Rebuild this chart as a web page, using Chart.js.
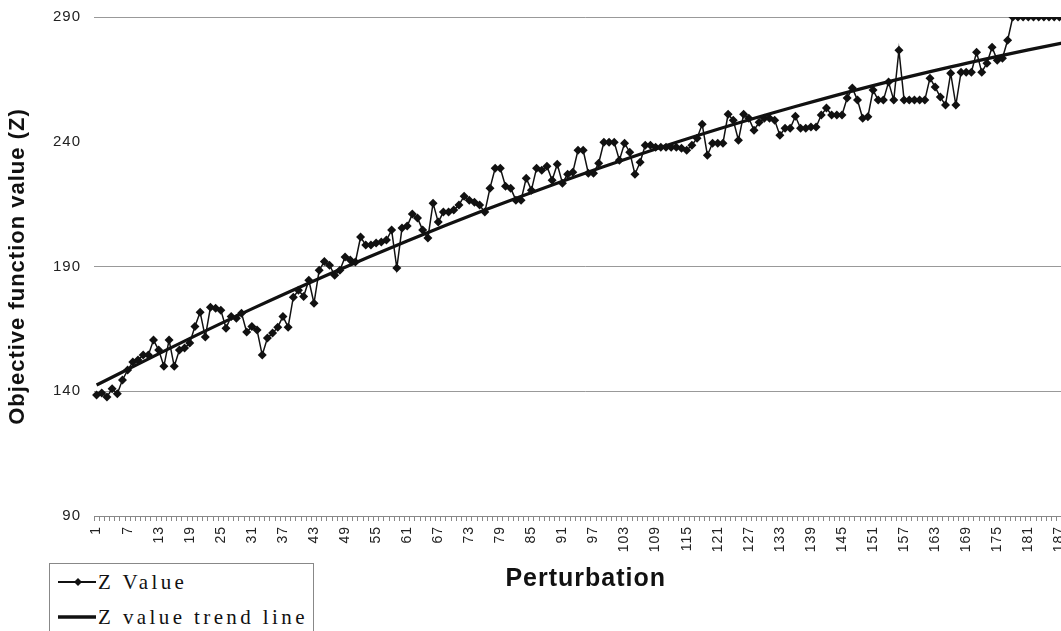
<!DOCTYPE html>
<html><head><meta charset="utf-8">
<script src="https://cdn.jsdelivr.net/npm/chart.js@4/dist/chart.umd.min.js"></script>
<style>
html,body{margin:0;padding:0;background:#fff;overflow:hidden;width:1061px;height:631px;}
#wrap{position:absolute;left:0;top:0;width:1082px;height:631px;}
#legend{position:absolute;left:49px;top:563px;width:263px;height:80px;border:1px solid #888;background:#fff;
  font-family:"Liberation Serif","Times New Roman",serif;font-size:21px;color:#111;letter-spacing:3.4px;}
.row{position:absolute;left:7px;height:30px;display:flex;align-items:center;white-space:nowrap;}
.row svg{margin-right:1px;}
</style></head>
<body>
<div id="wrap"><canvas id="c"></canvas></div>
<div id="legend">
  <div class="row" style="top:3px"><svg width="40" height="20"><line x1="1" y1="10" x2="39" y2="10" stroke="#111" stroke-width="2"/><polygon points="21,6 25,10 21,14 17,10" fill="#111"/></svg><span>Z Value</span></div>
  <div class="row" style="top:38px"><svg width="40" height="20"><line x1="1" y1="10" x2="39" y2="10" stroke="#111" stroke-width="3.5"/></svg><span>Z value trend line</span></div>
</div>
<script>
const categories = [];
for (let i = 1; i <= 190; i++) categories.push(String(i));

const zValues = [
138.5,139.3,137.7,141,139,144.5,148.5,151.7,152.5,154.5,
154.5,160.5,156.5,150,160.5,150,156.5,157.3,159.3,166,
171.7,161.7,173.7,173.3,172.5,165.3,170,169.3,171.3,163.7,
166,164.5,154.5,161.3,163.3,165.7,170,165.7,177.7,180.5,
178,184.5,175.3,188.5,192,190.5,186.5,188.5,193.8,192.6,
191.8,201.8,198.6,198.6,199.4,199.8,200.6,204.6,189.4,205.4,
206.2,211,209.4,204.6,201.4,215.4,207.8,211.8,211.8,212.6,
214.6,218.2,216.6,215.8,214.6,211.8,221.4,229.4,229.4,222.2,
221.4,216.6,216.6,225.4,220.6,229.4,228.6,230.2,224.6,231,
223.4,227,227.8,236.6,236.6,227.4,227.4,231.4,239.8,239.8,
239.8,232.6,239.4,235.8,227,231.8,238.6,238.6,237.8,237.8,
237.8,237.8,237.8,237.4,236.6,238.6,241.4,247,234.6,239.4,
239.4,239.4,251,248.6,240.6,251,249.4,244.6,247.8,249.4,
249.4,248.6,242.6,245.4,245.4,250.2,245.4,245.4,245.9,245.9,
250.7,253.5,250.7,250.7,250.7,257.5,261.5,256.7,249.4,250,
260.7,256.7,256.7,263.9,256.7,276.7,256.7,256.7,256.7,256.7,
256.7,265.5,261.9,257.9,254.7,267.5,254.7,267.9,267.9,267.9,
275.9,267.9,271.5,277.9,272.7,273.5,280.7,290,290,290,
290,290,290,290,290,290,290,290,290,290
];

const trendCategories = [1,16,31,46,61,76,91,106,121,136,151,166,181,190];
const trendValues = [142.5,158.1,173,187,200.2,212.6,224.2,235,245,254.1,262.5,270,276.8,280.6];

const yMin = 90, yMax = 290, yStep = 50;
const hiddenGridValues = [240];
const labelEvery = 6;

const trendData = categories.map(() => null);
trendCategories.forEach((c, k) => { trendData[categories.indexOf(String(c))] = trendValues[k]; });

const FONT = "'Liberation Sans', Arial, sans-serif";

const spacing = {
  id: 'spacing',
  beforeUpdate(chart) { chart.ctx.letterSpacing = '1px'; },
  beforeLayout(chart) { chart.ctx.letterSpacing = '1px'; },
  beforeDraw(chart) { chart.ctx.letterSpacing = '1px'; }
};

new Chart(document.getElementById('c'), {
  type: 'line',
  plugins: [spacing],
  data: {
    labels: categories,
    datasets: [
      { label: 'Z Value', data: zValues, borderColor: '#111', backgroundColor: '#111', borderWidth: 1.5,
        pointStyle: 'rectRot', pointRadius: 4.5, pointBackgroundColor: '#111', pointBorderColor: '#111', pointBorderWidth: 0,
        tension: 0, order: 2 },
      { label: 'Z value trend line', data: trendData, spanGaps: true, borderColor: '#111', borderWidth: 3.2,
        pointRadius: 0, cubicInterpolationMode: 'monotone', order: 1 }
    ]
  },
  options: {
    responsive: true, maintainAspectRatio: false, animation: false,
    layout: { padding: { top: 17, right: 0, left: 0, bottom: 0 } },
    plugins: { legend: { display: false }, tooltip: { enabled: false } },
    scales: {
      x: {
        type: 'category', offset: true,
        grid: { display: true, drawOnChartArea: false, drawTicks: true, tickLength: 5, color: '#888', offset: true },
        border: { display: true, color: '#888', width: 1 },
        ticks: { autoSkip: false, maxRotation: 90, minRotation: 90, padding: 5, color: '#222',
          font: { family: FONT, size: 14 },
          callback: function(v, i) { return (i % labelEvery === 0) ? categories[i] : ''; } },
        title: { display: true, text: 'Perturbation', color: '#111',
          font: { family: FONT, size: 25, weight: 'bold' }, padding: { top: 0, bottom: 37 } },
        afterFit: s => { s.height = 115; s.paddingLeft = 0; s.paddingRight = 0; }
      },
      y: {
        min: yMin, max: yMax,
        grid: { drawTicks: false, lineWidth: 1,
          color: c => (c.tick && hiddenGridValues.includes(c.tick.value)) ? 'rgba(0,0,0,0)' : '#999' },
        border: { display: false },
        ticks: { stepSize: yStep, padding: 13, color: '#222', font: { family: FONT, size: 15 } },
        title: { display: true, text: 'Objective function value (Z)', color: '#111',
          font: { family: FONT, size: 22, weight: 'bold' }, padding: { top: 5, bottom: 0 } },
        afterFit: s => { s.width = 94; s.paddingTop = 0; s.paddingBottom = 0; }
      }
    }
  }
});
</script>
</body></html>
